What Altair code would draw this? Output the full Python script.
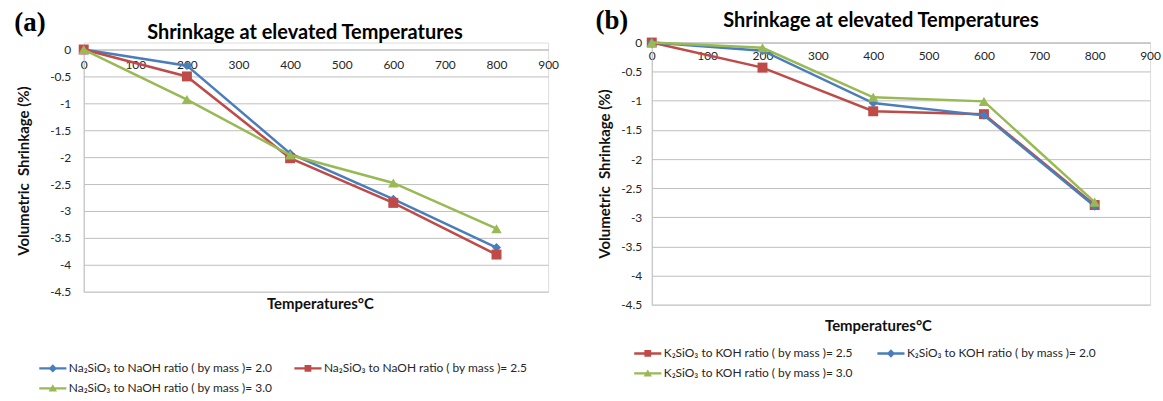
import altair as alt
import pandas as pd

# ---------------- data ----------------
temperatures = [0, 200, 400, 600, 800]
x_ticks = [0, 100, 200, 300, 400, 500, 600, 700, 800, 900]
y_ticks = [0, -0.5, -1, -1.5, -2, -2.5, -3, -3.5, -4, -4.5]

chart_title = "Shrinkage at elevated Temperatures"
x_title = "Temperatures°C"
y_title = "Volumetric\u00a0 Shrinkage (%)"
panel_a_label = ["(a)"]
panel_b_label = ["(b)"]

# panel (a): sodium silicate / NaOH
a_names = [
    "Na₂SiO₃ to NaOH ratio ( by mass )= 2.0",
    "Na₂SiO₃ to NaOH ratio ( by mass )= 2.5",
    "Na₂SiO₃ to NaOH ratio ( by mass )= 3.0",
]
a_ratio_20 = [0, -0.30, -1.93, -2.78, -3.68]
a_ratio_25 = [0, -0.50, -2.02, -2.85, -3.81]
a_ratio_30 = [0, -0.93, -1.96, -2.48, -3.33]

# panel (b): potassium silicate / KOH (legend order as in the figure)
b_names = [
    "K₂SiO₃ to KOH ratio ( by mass )= 2.5",
    "K₂SiO₃ to KOH ratio ( by mass )= 2.0",
    "K₂SiO₃ to KOH ratio ( by mass )= 3.0",
]
b_ratio_25 = [0, -0.43, -1.18, -1.23, -2.79]
b_ratio_20 = [0, -0.14, -1.04, -1.25, -2.81]
b_ratio_30 = [0, -0.09, -0.94, -1.01, -2.74]

BLUE = "#4A7EBB"
RED = "#BE4B48"
GREEN = "#98B954"

FONT = "Lato"

# legend symbols: line with marker (unit coordinates)
LINE = "M-3.4,-0.3H3.4V0.3H-3.4Z"
LEG_SQUARE = LINE + "M-0.85,-0.85H0.85V0.85H-0.85Z"
LEG_DIAMOND = LINE + "M0,-1.05L1.05,0L0,1.05L-1.05,0Z"
LEG_TRIANGLE = LINE + "M0,-1.0L1.05,0.8H-1.05Z"


def make_panel(names, series_values, colors, shapes, sizes, leg_paths,
               width, height, y_top, panel_label, label_xy,
               title_dx, title_offset, xtitle_xy, x_label_pad,
               y_label_pad, y_title_pad, legend_xy, col_pad):
    x_axis = alt.Axis(
        values=x_ticks, orient="bottom", offset=-(height - y_top),
        grid=False, ticks=False, tickSize=0, domain=True, domainColor="#BFBFBF",
        labelFont=FONT, labelFontSize=12, labelColor="#262626",
        labelPadding=x_label_pad, labelFlush=False,
        title=x_title, titleFont=FONT, titleFontSize=15, titleFontWeight="bold",
        titleColor="#111111", titleX=xtitle_xy[0], titleY=xtitle_xy[1],
        titleBaseline="middle", titleAlign="center",
    )
    y_axis = alt.Axis(
        values=y_ticks, grid=True, gridColor="#BFBFBF", gridWidth=1,
        ticks=False, tickSize=0, domain=True, domainColor="#BFBFBF",
        labelFont=FONT, labelFontSize=12, labelColor="#262626",
        labelPadding=y_label_pad, labelExpr="'' + datum.value",
        title=y_title, titleFont=FONT, titleFontSize=15, titleFontWeight="bold",
        titleColor="#111111", titlePadding=y_title_pad,
    )
    xenc = alt.X("temp:Q", scale=alt.Scale(domain=[0, 900], nice=False, zero=False), axis=x_axis)
    yenc = alt.Y("value:Q", scale=alt.Scale(domain=[-4.5, 0], nice=False, zero=False,
                                            range=[height, y_top]), axis=y_axis)

    layers = []
    frames = []
    for name, vals, col, shp, sz in zip(names, series_values, colors, shapes, sizes):
        df = pd.DataFrame({"temp": temperatures, "value": vals, "series": name})
        frames.append(df)
        layers.append(
            alt.Chart(df).mark_line(
                color=col, strokeWidth=2.5,
                point=alt.OverlayMarkDef(shape=shp, filled=True, size=sz, color=col, opacity=1),
            ).encode(x=xenc, y=yenc)
        )

    all_df = pd.concat(frames, ignore_index=True)
    legend = alt.Legend(
        title=None, orient="none", legendX=legend_xy[0], legendY=legend_xy[1],
        direction="horizontal", columns=2, columnPadding=col_pad, rowPadding=8, padding=0,
        symbolSize=64, symbolStrokeWidth=0, symbolOpacity=1,
        labelFont=FONT, labelFontSize=12, labelColor="#262626",
        labelOffset=10, labelLimit=400,
    )
    carrier = alt.Chart(all_df).mark_point(filled=True, opacity=0).encode(
        x=xenc, y=yenc,
        color=alt.Color("series:N", scale=alt.Scale(domain=names, range=colors), legend=legend),
        shape=alt.Shape("series:N", scale=alt.Scale(domain=names, range=leg_paths), legend=legend),
    )
    layers.insert(0, carrier)

    lab = alt.Chart(pd.DataFrame({"label": panel_label})).mark_text(
        font="Liberation Serif", fontSize=27, fontWeight="bold", color="#000000",
        align="center", baseline="middle",
    ).encode(x=alt.value(label_xy[0]), y=alt.value(label_xy[1]), text="label:N")
    layers.append(lab)

    return alt.layer(*layers).properties(
        width=width, height=height,
        title=alt.Title(chart_title, font=FONT, fontSize=20, fontWeight="bold",
                        color="#000000", anchor="middle", frame="group",
                        offset=title_offset, dx=title_dx),
    )


left = make_panel(
    a_names, [a_ratio_20, a_ratio_25, a_ratio_30], [BLUE, RED, GREEN],
    ["diamond", "square", "triangle-up"], [80, 100, 110],
    [LEG_DIAMOND, LEG_SQUARE, LEG_TRIANGLE],
    width=466, height=250, y_top=7, panel_label=panel_a_label, label_xy=(-54, -20),
    title_dx=-11, title_offset=-34, xtitle_xy=(237, 255), x_label_pad=10,
    y_label_pad=13, y_title_pad=18, legend_xy=(-37, 321), col_pad=21,
)
right = make_panel(
    b_names, [b_ratio_25, b_ratio_20, b_ratio_30], [RED, BLUE, GREEN],
    ["square", "diamond", "triangle-up"], [100, 80, 110],
    [LEG_SQUARE, LEG_DIAMOND, LEG_TRIANGLE],
    width=500, height=263, y_top=0, panel_label=panel_b_label, label_xy=(-40, -22),
    title_dx=-20, title_offset=-24, xtitle_xy=(227, 284), x_label_pad=8,
    y_label_pad=10, y_title_pad=8, legend_xy=(-10, 306), col_pad=23,
)

chart = alt.hconcat(left, right, spacing=36).resolve_scale(
    color="independent", shape="independent"
).properties(
    padding={"left": 13, "top": 5, "right": 2, "bottom": 2},
    background="white",
).configure_view(stroke=None).configure(font=FONT)

chart.save("out.html", embed_options={"renderer": "svg", "actions": False})
